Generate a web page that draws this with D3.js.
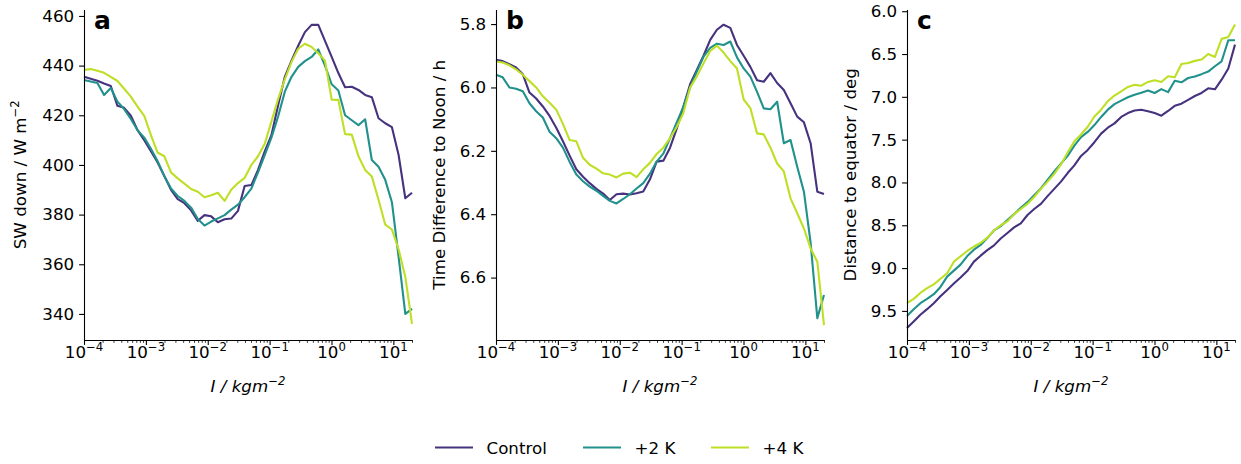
<!DOCTYPE html>
<html><head><meta charset="utf-8">
<script src="https://cdn.jsdelivr.net/npm/d3@7"></script>
<style>
body{margin:0;background:#fff;}
text{font-family:"DejaVu Sans",sans-serif;fill:#000;}
</style>
</head><body>
<svg id="c" width="1241" height="464"></svg>
<script>
// ---- data ----
const xValues = [1.000e-4,1.283e-4,1.646e-4,2.111e-4,2.709e-4,3.475e-4,4.457e-4,5.718e-4,7.336e-4,9.411e-4,
  1.207e-3,1.549e-3,1.987e-3,2.549e-3,3.270e-3,4.195e-3,5.382e-3,6.905e-3,8.858e-3,1.136e-2,
  1.458e-2,1.870e-2,2.399e-2,3.078e-2,3.948e-2,5.065e-2,6.498e-2,8.336e-2,0.1069,0.1372,
  0.1760,0.2258,0.2897,0.3716,0.4767,0.6116,0.7846,1.0065,1.291,1.657,
  2.125,2.726,3.497,4.486,5.755,7.383,9.472,12.15,15.59,20.0];

const seriesNames = ["Control","+2 K","+4 K"];
const seriesColors = ["#46327e","#21918c","#bddf26"];

const swControl = [435.5,434.7,433.9,432.8,431.8,423.8,423.0,419.8,414.0,410.0,
  405.5,401.0,395.5,390.0,386.2,384.6,381.7,377.5,379.8,379.3,
  376.9,378.1,378.4,381.5,391.5,391.9,398.0,405.5,412.0,424.0,
  435.5,442.0,448.0,453.5,456.4,456.4,450.0,443.5,437.0,431.3,
  431.5,430.2,428.2,427.3,418.8,416.8,415.2,404.0,386.6,388.8];
const swPlus2 = [434.2,433.6,433.0,428.2,431.0,425.5,422.5,418.5,414.0,411.0,
  406.5,401.5,395.5,390.5,387.5,385.5,382.8,378.2,375.6,377.2,
  378.5,379.8,382.0,384.0,387.0,390.5,397.0,404.0,411.0,419.5,
  429.5,435.5,439.5,441.8,443.5,446.5,440.0,432.5,430.0,420.0,
  418.0,416.0,418.4,402.0,399.3,394.0,385.0,363.0,340.0,342.0];
const swPlus4 = [438.3,438.6,437.9,437.1,435.5,433.8,430.7,427.5,423.5,419.8,
  412.0,405.0,403.5,397.0,394.6,392.5,390.3,389.2,387.0,387.8,
  388.8,385.5,390.0,392.7,394.8,400.0,403.5,408.5,417.5,426.5,
  434.5,441.5,446.8,448.8,447.5,445.0,442.0,426.3,426.2,412.4,
  412.2,403.5,398.0,395.3,386.0,376.0,374.0,366.0,355.0,336.0];

const timeControl = [5.913,5.917,5.927,5.937,5.958,6.016,6.035,6.060,6.090,6.127,
  6.170,6.215,6.258,6.282,6.302,6.320,6.335,6.355,6.337,6.335,
  6.338,6.334,6.328,6.290,6.234,6.231,6.190,6.130,6.060,5.990,
  5.945,5.900,5.850,5.818,5.802,5.812,5.866,5.900,5.935,5.977,
  5.982,5.955,5.986,6.008,6.050,6.092,6.110,6.176,6.329,6.336];
const timePlus2 = [5.960,5.968,6.000,6.004,6.012,6.050,6.075,6.095,6.140,6.160,
  6.190,6.235,6.275,6.296,6.313,6.326,6.342,6.358,6.366,6.352,
  6.337,6.319,6.302,6.272,6.234,6.209,6.160,6.110,6.061,6.000,
  5.950,5.903,5.875,5.862,5.866,5.855,5.905,5.940,5.966,6.014,
  6.066,6.069,6.045,6.176,6.166,6.250,6.329,6.490,6.728,6.655];
const timePlus4 = [5.918,5.921,5.930,5.943,5.960,5.980,6.000,6.028,6.048,6.070,
  6.115,6.166,6.170,6.222,6.244,6.256,6.271,6.275,6.284,6.272,
  6.269,6.283,6.258,6.238,6.210,6.190,6.160,6.125,6.080,6.000,
  5.965,5.924,5.885,5.868,5.890,5.917,5.940,6.038,6.065,6.145,
  6.148,6.190,6.240,6.265,6.350,6.397,6.445,6.508,6.550,6.750];

const distControl = [9.700,9.625,9.545,9.480,9.410,9.330,9.255,9.180,9.110,9.035,
  8.925,8.855,8.790,8.735,8.655,8.590,8.525,8.478,8.380,8.310,
  8.250,8.160,8.075,7.990,7.890,7.800,7.690,7.620,7.530,7.430,
  7.360,7.310,7.235,7.190,7.160,7.150,7.168,7.190,7.220,7.165,
  7.105,7.080,7.035,6.990,6.955,6.900,6.912,6.800,6.670,6.390];
const distPlus2 = [9.560,9.480,9.410,9.360,9.305,9.220,9.100,9.030,8.960,8.860,
  8.785,8.730,8.650,8.560,8.510,8.440,8.370,8.295,8.230,8.150,
  8.070,7.970,7.870,7.780,7.690,7.570,7.470,7.410,7.330,7.235,
  7.150,7.085,7.045,7.005,6.975,6.952,6.926,6.955,6.910,6.945,
  6.813,6.830,6.780,6.763,6.735,6.705,6.643,6.585,6.339,6.339];
const distPlus4 = [9.410,9.360,9.290,9.235,9.190,9.125,9.060,8.925,8.862,8.800,
  8.748,8.705,8.645,8.560,8.500,8.455,8.370,8.310,8.250,8.170,
  8.075,7.990,7.900,7.790,7.650,7.520,7.440,7.350,7.230,7.150,
  7.050,6.985,6.935,6.885,6.860,6.870,6.826,6.807,6.826,6.760,
  6.772,6.616,6.604,6.580,6.565,6.500,6.534,6.323,6.300,6.156];

const xMajorTicks = [1e-4,1e-3,1e-2,1e-1,1e0,1e1];
const xMajorExps = ["−4","−3","−2","−1","0","1"];
const yTicksA = [340,360,380,400,420,440,460];
const yTicksB = [5.8,6.0,6.2,6.4,6.6];
const yTicksC = [6.0,6.5,7.0,7.5,8.0,8.5,9.0,9.5];

// ---- layout ----
const svg = d3.select("#c");
const TOP = 9.5, BOTTOM = 340, PW = 328;
const FS = 16.7;
const panels = [
  {left:84, dom:[329.5,462.6], rng:[BOTTOM,TOP], ticks:yTicksA, fmt:d3.format("d"),
   label:"SW down / W m", sup:"−2", labelX:26, letter:"a", data:[swControl,swPlus2,swPlus4]},
  {left:496, dom:[5.754,6.797], rng:[TOP,BOTTOM], ticks:yTicksB, fmt:d3.format(".1f"),
   label:"Time Difference to Noon / h", sup:null, labelX:444.5, letter:"b", data:[timeControl,timePlus2,timePlus4]},
  {left:907, dom:[5.98,9.84], rng:[TOP,BOTTOM], ticks:yTicksC, fmt:d3.format(".1f"),
   label:"Distance to equator / deg", sup:null, labelX:856, letter:"c", data:[distControl,distPlus2,distPlus4]}
];

const minorTicks = [];
for (let e=-4;e<=1;e++) for (let k=2;k<=9;k++){ const v=k*Math.pow(10,e); if (v<=20) minorTicks.push(v); }

panels.forEach(p=>{
  const x = d3.scaleLog().domain([1e-4,20]).range([p.left,p.left+PW]);
  const y = d3.scaleLinear().domain(p.dom).range(p.rng);
  const g = svg.append("g");

  // lines
  const line = d3.line().x((d,i)=>x(xValues[i])).y(d=>y(d));
  p.data.forEach((s,k)=>{
    g.append("path").datum(s).attr("d",line).attr("fill","none")
      .attr("stroke",seriesColors[k]).attr("stroke-width",2.1)
      .attr("stroke-linejoin","round").attr("stroke-linecap","butt");
  });

  // x axis
  const xa = g.append("g").attr("transform",`translate(0,${BOTTOM})`)
    .call(d3.axisBottom(x).tickValues(xMajorTicks).tickSize(4.9).tickSizeOuter(0).tickFormat(""));
  xa.select(".domain").attr("stroke","#000").attr("stroke-width",1.1);
  xa.selectAll(".tick line").attr("stroke","#000").attr("stroke-width",1.1);
  const xm = g.append("g").attr("transform",`translate(0,${BOTTOM})`)
    .call(d3.axisBottom(x).tickValues(minorTicks).tickSize(2.8).tickSizeOuter(0).tickFormat(""));
  xm.select(".domain").remove();
  xm.selectAll(".tick line").attr("stroke","#000").attr("stroke-width",0.8);
  xMajorTicks.forEach((t,i)=>{
    const tx = g.append("text").attr("x",x(t)).attr("y",BOTTOM+17.5)
      .attr("text-anchor","middle").style("font-size",FS+"px");
    tx.append("tspan").text("10");
    tx.append("tspan").attr("dy",-7).style("font-size",(FS*0.7)+"px").text(xMajorExps[i]);
  });

  // y axis
  const ya = g.append("g").attr("transform",`translate(${p.left},0)`)
    .call(d3.axisLeft(y).tickValues(p.ticks).tickSize(4.9).tickPadding(4.9).tickSizeOuter(0).tickFormat(p.fmt));
  ya.select(".domain").attr("stroke","#000").attr("stroke-width",1.1);
  ya.selectAll(".tick line").attr("stroke","#000").attr("stroke-width",1.1);
  ya.selectAll(".tick text").style("font-size",FS+"px").style("font-family","DejaVu Sans").attr("fill","#000");

  // x label
  const xl = g.append("text").attr("x",p.left+PW/2).attr("y",392)
    .attr("text-anchor","middle").style("font-size",FS+"px").style("font-style","italic");
  xl.append("tspan").text("I / kgm");
  xl.append("tspan").attr("dy",-7).style("font-size",(FS*0.7)+"px").text("−2");

  // y label
  const yl = g.append("text")
    .attr("transform",`translate(${p.labelX},${(TOP+BOTTOM)/2}) rotate(-90)`)
    .attr("text-anchor","middle").style("font-size",FS+"px");
  yl.append("tspan").text(p.label);
  if (p.sup) yl.append("tspan").attr("dy",-7).style("font-size",(FS*0.7)+"px").text(p.sup);

  // panel letter
  g.append("text").attr("x",p.left+10).attr("y",28.5)
    .style("font-size","25px").style("font-weight","bold").text(p.letter);
});

// legend
const legendX = [435, 583, 711];
seriesNames.forEach((n,k)=>{
  svg.append("line").attr("x1",legendX[k]).attr("x2",legendX[k]+38)
    .attr("y1",447.5).attr("y2",447.5).attr("stroke",seriesColors[k]).attr("stroke-width",2.1);
  svg.append("text").attr("x",legendX[k]+51.5).attr("y",453.5)
    .style("font-size",FS+"px").text(n);
});
</script>
</body></html>
